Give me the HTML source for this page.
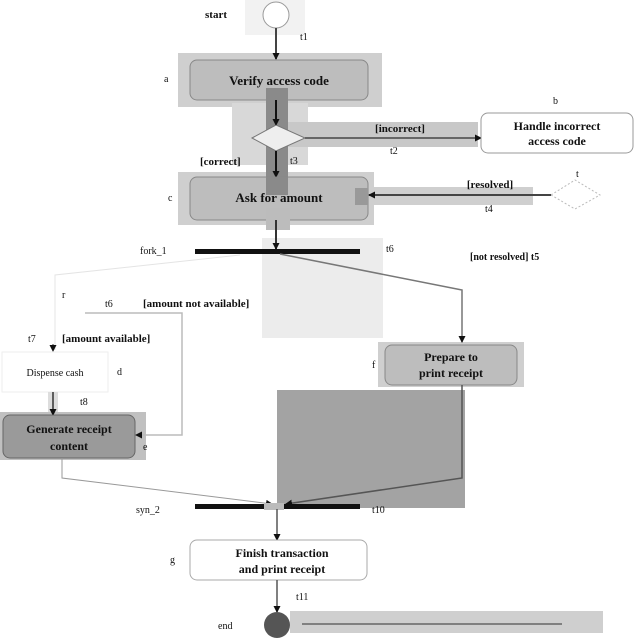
<!DOCTYPE html>
<html><head><style>body{margin:0;background:#fff}svg{display:block}text{font-family:"Liberation Serif",serif;fill:#111}</style></head><body>
<svg width="640" height="640" viewBox="0 0 640 640" xmlns="http://www.w3.org/2000/svg">
<defs><marker id="a" markerUnits="userSpaceOnUse" markerWidth="7" markerHeight="7" refX="6" refY="3.5" orient="auto"><path d="M0,0L7,3.5L0,7z" fill="#111"/></marker></defs>
<rect x="245" y="0" width="60" height="35" fill="#f2f2f2"/>
<rect x="178" y="53" width="204" height="54" fill="#cfcfcf"/>
<rect x="232" y="103" width="76" height="62" fill="#d8d8d8"/>
<rect x="288" y="122" width="190" height="25" fill="#c8c8c8"/>
<rect x="178" y="172" width="196" height="53" fill="#cfcfcf"/>
<rect x="368" y="187" width="165" height="18" fill="#cfcfcf"/>
<rect x="262" y="238" width="121" height="100" fill="#ececec"/>
<rect x="378" y="342" width="146" height="45" fill="#cfcfcf"/>
<rect x="277" y="390" width="188" height="118" fill="#a3a3a3"/>
<rect x="0" y="412" width="146" height="48" fill="#c0c0c0"/>
<rect x="290" y="611" width="313" height="22" fill="#cfcfcf"/>
<circle cx="276" cy="15" r="13" fill="#fff" stroke="#999"/>
<text x="205" y="18" font-size="11" font-weight="bold">start</text>
<line x1="276" y1="28" x2="276" y2="59" stroke="#444" stroke-width="2" marker-end="url(#a)"/>
<text x="300" y="40" font-size="10">t1</text>
<rect x="190" y="60" width="178" height="40" rx="7" fill="#bdbdbd" stroke="#888"/>
<text x="279" y="85" font-size="13" font-weight="bold" text-anchor="middle">Verify access code</text>
<text x="164" y="82" font-size="10">a</text>
<rect x="266" y="88" width="22" height="107" fill="#8a8a8a"/>
<line x1="276" y1="100" x2="276" y2="125" stroke="#111" stroke-width="2" marker-end="url(#a)"/>
<path d="M252,138 L276,125 L305,138 L276,151 Z" fill="#eee" stroke="#777"/>
<line x1="305" y1="138" x2="481" y2="138" stroke="#666" stroke-width="2" marker-end="url(#a)"/>
<text x="400" y="132" font-size="11" font-weight="bold" text-anchor="middle">[incorrect]</text>
<text x="390" y="154" font-size="10">t2</text>
<rect x="481" y="113" width="152" height="40" rx="7" fill="#fff" stroke="#999"/>
<text x="557" y="130" font-size="12" font-weight="bold" text-anchor="middle">Handle incorrect</text>
<text x="557" y="145" font-size="12" font-weight="bold" text-anchor="middle">access code</text>
<text x="553" y="104" font-size="10">b</text>
<text x="200" y="165" font-size="11" font-weight="bold">[correct]</text>
<text x="290" y="164" font-size="10">t3</text>
<line x1="276" y1="151" x2="276" y2="177" stroke="#111" stroke-width="2" marker-end="url(#a)"/>
<rect x="190" y="177" width="178" height="43" rx="7" fill="#bdbdbd" stroke="#888"/>
<rect x="266" y="177" width="22" height="18" fill="#8a8a8a"/>
<text x="279" y="202" font-size="13" font-weight="bold" text-anchor="middle">Ask for amount</text>
<text x="168" y="201" font-size="10">c</text>
<rect x="355" y="188" width="13" height="17" fill="#999"/>
<path d="M551,195 L575,180 L600,195 L575,209 Z" fill="#fff" stroke="#bbb" stroke-dasharray="2,2"/>
<text x="576" y="177" font-size="10">t</text>
<line x1="551" y1="195" x2="369" y2="195" stroke="#444" stroke-width="2" marker-end="url(#a)"/>
<text x="490" y="188" font-size="11" font-weight="bold" text-anchor="middle">[resolved]</text>
<text x="485" y="212" font-size="10">t4</text>
<rect x="266" y="208" width="24" height="22" fill="#bcbcbc"/>
<line x1="276" y1="220" x2="276" y2="249" stroke="#333" stroke-width="2" marker-end="url(#a)"/>
<rect x="195" y="249" width="165" height="5" fill="#111"/>
<text x="140" y="254" font-size="10" fill="#aaa">fork_1</text>
<text x="386" y="252" font-size="10">t6</text>
<polyline points="280,254 462,290 462,342" fill="none" stroke="#777" stroke-width="1.5" marker-end="url(#a)"/>
<text x="470" y="260" font-size="10" font-weight="bold">[not resolved]  t5</text>
<polyline points="240,255 55,275 55,350" fill="none" stroke="#e4e4e4"/>
<text x="62" y="298" font-size="10">r</text>
<polyline points="85,313 182,313 182,435 136,435" fill="none" stroke="#bbb" stroke-width="1.5" marker-end="url(#a)"/>
<text x="105" y="307" font-size="10">t6</text>
<text x="143" y="307" font-size="11" font-weight="bold">[amount not available]</text>
<text x="28" y="342" font-size="10">t7</text>
<line x1="53" y1="344" x2="53" y2="351" stroke="#333" stroke-width="1" marker-end="url(#a)"/>
<text x="62" y="342" font-size="11" font-weight="bold">[amount available]</text>
<rect x="385" y="345" width="132" height="40" rx="7" fill="#bdbdbd" stroke="#888"/>
<text x="451" y="361" font-size="12" font-weight="bold" text-anchor="middle">Prepare to</text>
<text x="451" y="377" font-size="12" font-weight="bold" text-anchor="middle">print receipt</text>
<text x="372" y="368" font-size="10">f</text>
<rect x="2" y="352" width="106" height="40" fill="#fff" stroke="#eee"/>
<text x="55" y="376" font-size="10" fill="#999" text-anchor="middle">Dispense cash</text>
<text x="117" y="375" font-size="10">d</text>
<rect x="48" y="392" width="10" height="20" fill="#ddd"/>
<line x1="53" y1="392" x2="53" y2="415" stroke="#333" stroke-width="1.5" marker-end="url(#a)"/>
<text x="80" y="405" font-size="10">t8</text>
<rect x="3" y="415" width="132" height="43" rx="7" fill="#9a9a9a" stroke="#666"/>
<text x="69" y="433" font-size="12" font-weight="bold" text-anchor="middle">Generate receipt</text>
<text x="69" y="450" font-size="12" font-weight="bold" text-anchor="middle">content</text>
<text x="143" y="450" font-size="10">e</text>
<polyline points="62,458 62,478 272,504" fill="none" stroke="#999" stroke-width="1" marker-end="url(#a)"/>
<polyline points="462,385 462,478 286,504" fill="none" stroke="#555" stroke-width="1.5" marker-end="url(#a)"/>
<rect x="195" y="504" width="165" height="5" fill="#111"/>
<rect x="264" y="503" width="20" height="7" fill="#bbb"/>
<text x="136" y="513" font-size="10" fill="#555">syn_2</text>
<text x="372" y="513" font-size="10" fill="#777">t10</text>
<line x1="277" y1="509" x2="277" y2="540" stroke="#555" stroke-width="1.5" marker-end="url(#a)"/>
<rect x="190" y="540" width="177" height="40" rx="7" fill="#fff" stroke="#aaa"/>
<text x="282" y="557" font-size="12" font-weight="bold" text-anchor="middle" fill="#333">Finish transaction</text>
<text x="282" y="573" font-size="12" font-weight="bold" text-anchor="middle" fill="#333">and print receipt</text>
<text x="170" y="563" font-size="10">g</text>
<text x="296" y="600" font-size="10" fill="#aaa">t11</text>
<line x1="277" y1="580" x2="277" y2="612" stroke="#555" stroke-width="1.5" marker-end="url(#a)"/>
<circle cx="277" cy="625" r="13" fill="#555"/>
<text x="218" y="629" font-size="10" fill="#555">end</text>
<line x1="302" y1="624" x2="562" y2="624" stroke="#666" stroke-width="1.5"/>
</svg>
</body></html>
